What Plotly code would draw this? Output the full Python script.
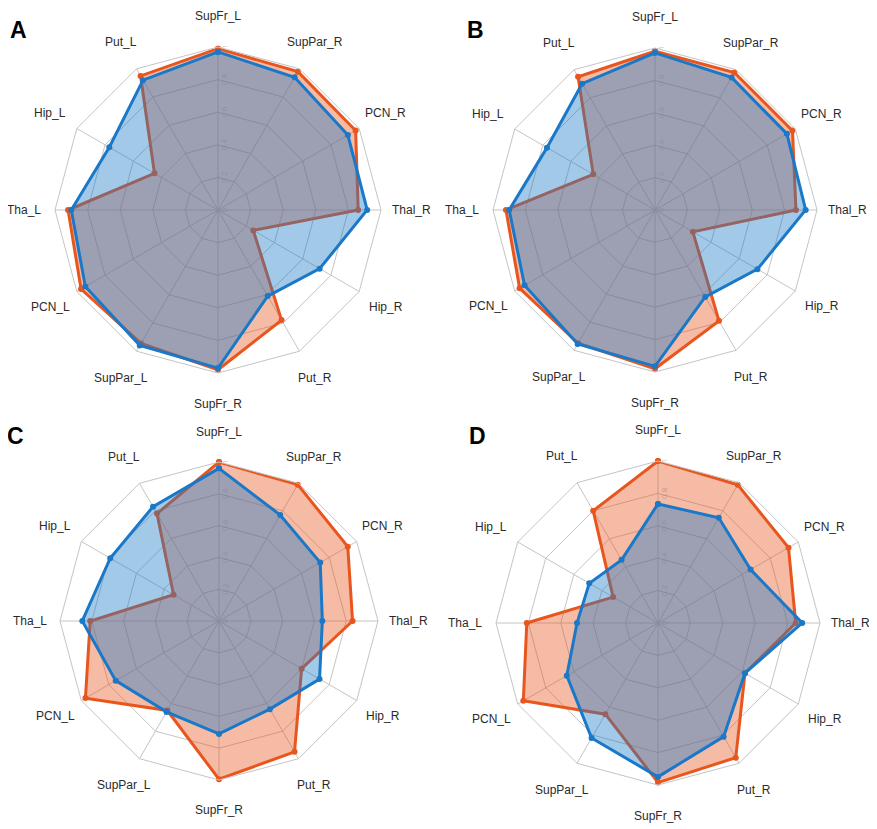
import math
import plotly.graph_objects as go

categories = ["SupFr_L", "SupPar_R", "PCN_R", "Thal_R", "Hip_R", "Put_R",
              "SupFr_R", "SupPar_L", "PCN_L", "Tha_L", "Hip_L", "Put_L"]

A_orange = [0.99, 0.98, 0.975, 0.86, 0.25, 0.78, 0.98, 0.945, 0.97, 0.92, 0.45, 0.95]
A_blue = [0.97, 0.94, 0.92, 0.915, 0.72, 0.61, 0.97, 0.96, 0.94, 0.90, 0.77, 0.92]
B_orange = [0.98, 0.98, 0.98, 0.87, 0.27, 0.79, 0.98, 0.95, 0.965, 0.92, 0.44, 0.95]
B_blue = [0.97, 0.945, 0.94, 0.93, 0.73, 0.62, 0.965, 0.955, 0.93, 0.90, 0.77, 0.90]
C_orange = [1.0, 0.99, 0.935, 0.84, 0.60, 0.95, 0.995, 0.65, 0.97, 0.81, 0.33, 0.78]
C_blue = [0.96, 0.77, 0.735, 0.65, 0.73, 0.64, 0.71, 0.66, 0.75, 0.86, 0.79, 0.83]
D_orange = [1.0, 0.985, 0.93, 0.85, 0.62, 0.96, 0.985, 0.65, 0.96, 0.81, 0.32, 0.80]
D_blue = [0.735, 0.75, 0.66, 0.89, 0.62, 0.81, 0.95, 0.82, 0.65, 0.50, 0.49, 0.45]

panel_letters = ["A", "B", "C", "D"]
panels = [(A_orange, A_blue), (B_orange, B_blue), (C_orange, C_blue), (D_orange, D_blue)]

ORANGE = "#E8561E"
BLUE = "#1A78C8"
ORANGE_FILL = "rgba(232,86,30,0.40)"
BLUE_FILL = "rgba(26,120,200,0.40)"
GRID = "#c4c4c4"
FONT = "Liberation Sans, Arial"

# the page body has an 8px margin, so the figure is 8px smaller each way
OFF = 8
W, H = 877 - OFF, 829 - OFF

def px(x):
    return (x - OFF) / W

def py(y):
    return 1 - (y - OFF) / H

# polar centres and radii in page pixels (layout only)
geo = [(218, 210, 163), (655, 210, 162), (219, 621, 159), (658, 623, 162)]
LABEL_R = 1.19

fig = go.Figure()

def close(v):
    return list(v) + [v[0]]

theta_closed = close(categories)

for i, ((orng, blu), letter) in enumerate(zip(panels, panel_letters)):
    pid = "polar" if i == 0 else f"polar{i+1}"
    fig.add_trace(go.Scatterpolar(
        r=close(orng), theta=theta_closed, subplot=pid,
        mode="lines+markers", fill="toself", fillcolor=ORANGE_FILL,
        line=dict(color=ORANGE, width=3), marker=dict(color=ORANGE, size=6),
        hoverinfo="skip", showlegend=False))
    fig.add_trace(go.Scatterpolar(
        r=close(blu), theta=theta_closed, subplot=pid,
        mode="lines+markers", fill="toself", fillcolor=BLUE_FILL,
        line=dict(color=BLUE, width=3), marker=dict(color=BLUE, size=6),
        hoverinfo="skip", showlegend=False))

    cx, cy, rad = geo[i]
    fig.layout[pid] = dict(
        domain=dict(x=[px(cx - rad), px(cx + rad)], y=[py(cy + rad), py(cy - rad)]),
        gridshape="linear",
        bgcolor="rgba(0,0,0,0)",
        radialaxis=dict(range=[0, 1], dtick=0.2, angle=90, showline=False,
                        gridcolor=GRID, gridwidth=1, ticks="",
                        tickfont=dict(size=8, color="rgba(130,130,130,0.55)"),
                        tickangle=0, layer="above traces"),
        angularaxis=dict(direction="clockwise", rotation=90, gridcolor=GRID,
                         linecolor=GRID, linewidth=1, showticklabels=False,
                         ticks="", layer="above traces"),
    )

    # category labels centred on a ring just outside the outer polygon
    n = len(categories)
    for k, cat in enumerate(categories):
        ang = 2 * math.pi * k / n
        lx = cx + LABEL_R * rad * math.sin(ang)
        ly = cy - LABEL_R * rad * math.cos(ang)
        fig.add_annotation(text=cat, x=px(lx), y=py(ly), xref="paper", yref="paper",
                           showarrow=False, xanchor="center", yanchor="middle",
                           font=dict(family=FONT, size=12, color="#2a2a2a"))

letter_pos = [(18, 30), (475, 30), (15, 436), (477, 436)]
for letter, (lx, ly) in zip(panel_letters, letter_pos):
    fig.add_annotation(text=f"<b>{letter}</b>", x=px(lx), y=py(ly),
                       xref="paper", yref="paper", showarrow=False,
                       xanchor="center", yanchor="middle",
                       font=dict(family=FONT, size=23, color="black"))

fig.update_layout(width=W, height=H, margin=dict(l=0, r=0, t=0, b=0),
                  paper_bgcolor="white", plot_bgcolor="white", showlegend=False)

fig.write_html("out.html")
